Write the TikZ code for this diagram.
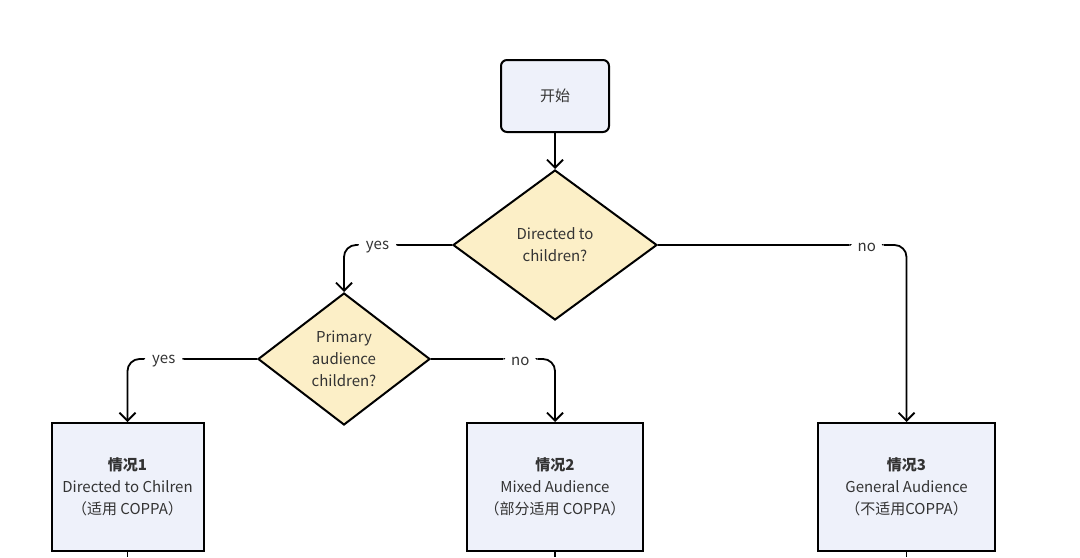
\documentclass[tikz,border=0pt]{standalone}
\usepackage{fontspec}
\setmainfont{Noto Sans CJK SC}
\usetikzlibrary{shapes.geometric,arrows.meta}

\definecolor{boxfill}{RGB}{238,241,250}
\definecolor{decfill}{RGB}{252,239,199}
\definecolor{txt}{RGB}{51,51,51}

\tikzset{
  every node/.style={font=\fontsize{7.5}{11}\selectfont, text=txt},
  startbox/.style={draw=black, line width=1pt, fill=boxfill, rounded corners=3pt,
    minimum width=54pt, minimum height=36pt},
  decision/.style={draw=black, line width=1pt, fill=decfill, shape=diamond,
    inner sep=0pt, align=center},
  casebox/.style={draw=black, line width=1pt, fill=boxfill, align=center,
    minimum height=64pt},
  conn/.style={line width=0.9pt, rounded corners=6pt, -{Straight Barb[length=4pt,width=8pt]}},
  lbl/.style={fill=white, inner xsep=4pt, inner ysep=2pt, yshift=-1pt}
}

\begin{document}
\begin{tikzpicture}[x=0.5pt, y=-0.5pt]
  \useasboundingbox (0,0) rectangle (1080,557);

  % start and decisions
  \node[startbox] (start) at (555,96) {开始};
  \node[decision, minimum width=102pt, minimum height=75pt] (dec1) at (555,245)
    {Directed to\\children?};
  \node[decision, minimum width=86pt, minimum height=66pt] (dec2) at (344,359)
    {Primary\\audience\\children?};

  % the three cases
  \node[casebox, minimum width=76pt] (case1) at (127.5,487)
    {\textbf{情况1}\\Directed to Chilren\\（适用 COPPA）};
  \node[casebox, minimum width=88pt] (case2) at (555,487)
    {\textbf{情况2}\\Mixed Audience\\（部分适用 COPPA）};
  \node[casebox, minimum width=88.5pt] (case3) at (906.5,487)
    {\textbf{情况3}\\General Audience\\（不适用COPPA）};

  % connectors
  \draw[conn] (start) -- (dec1);
  \draw[conn] (dec1.west) -| (dec2.north) node[lbl, pos=0.345] {yes};
  \draw[conn] (dec1.east) -| (case3.north) node[lbl, pos=0.42] {no};
  \draw[conn] (dec2.west) -| (case1.north) node[lbl, pos=0.36] {yes};
  \draw[conn] (dec2.east) -| (case2.north) node[lbl, pos=0.36] {no};

  % stubs leaving the picture
  \coordinate (out1) at (127.5,557);
  \coordinate (out2) at (555,557);
  \coordinate (out3) at (906.5,557);
  \draw[line width=0.9pt] (case1.south) -- (out1);
  \draw[line width=0.9pt] (case2.south) -- (out2);
  \draw[line width=0.9pt] (case3.south) -- (out3);
\end{tikzpicture}
\end{document}
